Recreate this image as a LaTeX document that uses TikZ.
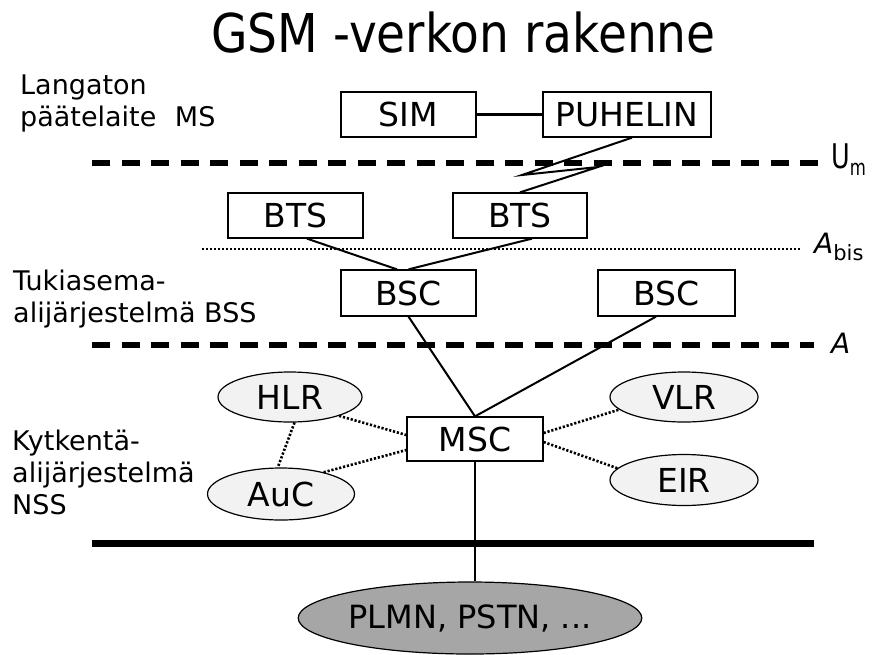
\documentclass[tikz,border=0pt]{standalone}
\usepackage{fontspec}
\setmainfont{DejaVu Sans}
\newfontfamily\titlefont[FakeStretch=0.88]{DejaVu Sans}
\newfontfamily\narrowfont[FakeStretch=0.75]{DejaVu Sans}
\usetikzlibrary{shapes.geometric,calc}
\definecolor{ellgray}{RGB}{242,242,242}
\definecolor{netgray}{RGB}{166,166,166}
\begin{document}
\begin{tikzpicture}[x=1pt,y=-1pt,
  box/.style={draw,line width=1.3pt,minimum width=#1,minimum height=45pt,inner sep=0pt,font=\fontsize{33}{33}\selectfont},
  ell/.style={ellipse,draw,line width=1.2pt,fill=ellgray,inner sep=0pt,font=\fontsize{33}{33}\selectfont},
  sidelabel/.style={anchor=north west,inner sep=0pt,align=left,font=\fontsize{27}{32}\selectfont},
  ifacelabel/.style={anchor=base west,inner sep=0pt},
  conn/.style={line width=2pt},
  dotconn/.style={line width=2.6pt,dash pattern=on 2.2pt off 1.8pt},
  iface/.style={line width=6pt,dash pattern=on 18pt off 11.5pt},
  dotline/.style={line width=1.6pt,dash pattern=on 1.8pt off 2.2pt}
]
\fill[white] (0,0) rectangle (874,654);
\useasboundingbox (0,0) rectangle (874,654);

% title
\node[anchor=base,inner sep=0pt,font=\titlefont\fontsize{53.5}{54}\selectfont] (title) at (463.5,52) {GSM -verkon rakenne};

% side labels
\node[sidelabel] (lms) at (20,75) {Langaton\\päätelaite\hspace{10pt} MS};
\node[sidelabel] (lbss) at (13,270) {Tukiasema-\\alijärjestelmä BSS};
\node[sidelabel] (lnss) at (12,430) {Kytkentä-\\alijärjestelmä\\NSS};

% interface lines
\coordinate (um1) at (92,163);
\coordinate (um2) at (819,163);
\draw[iface] (um1) -- (um2);
\node[ifacelabel,font=\narrowfont\fontsize{34}{34}\selectfont] (umlab) at (831,168) {U\raisebox{-7pt}{\fontsize{22}{22}\selectfont m}};

\coordinate (ab1) at (202,249);
\coordinate (ab2) at (801,249);
\draw[dotline] (ab1) -- (ab2);
\node[ifacelabel,font=\fontsize{28}{28}\selectfont] (ablab) at (814,253) {\itshape A\upshape\raisebox{-7pt}{\fontsize{21}{21}\selectfont bis}};

\coordinate (a1) at (92,345);
\coordinate (a2) at (814,345);
\draw[iface] (a1) -- (a2);
\node[ifacelabel,font=\fontsize{28}{28}\selectfont] (alab) at (831,353) {\itshape A};

\coordinate (n1) at (92,543);
\coordinate (n2) at (814,543);
\draw[line width=7pt] (n1) -- (n2);

% boxes
\node[box=135pt] (sim) at (408.5,114.5) {SIM};
\node[box=168pt] (puh) at (627,114.5) {PUHELIN};
\node[box=135pt] (bts1) at (295.5,215.5) {BTS};
\node[box=134pt] (bts2) at (520,215.5) {BTS};
\node[box=135pt,minimum height=46pt] (bsc1) at (408.5,293) {BSC};
\node[box=137pt,minimum height=46pt] (bsc2) at (666.5,293) {BSC};
\node[box=136pt,minimum height=44pt] (msc) at (475,439) {MSC};

% ellipses
\node[ell,minimum width=144pt,minimum height=50pt] (hlr) at (290,397) {HLR};
\node[ell,minimum width=148pt,minimum height=50pt] (vlr) at (684,397) {VLR};
\node[ell,minimum width=147pt,minimum height=52pt] (auc) at (281,494) {AuC};
\node[ell,minimum width=148pt,minimum height=51pt] (eir) at (684,480) {EIR};
\node[ellipse,draw,line width=1.2pt,fill=netgray,inner sep=0pt,minimum width=326pt,minimum height=72pt,font=\fontsize{32}{32}\selectfont] (plmn) at (470,618) {PLMN, PSTN, ...};

% connectors
\draw[line width=3pt] (sim.east) -- (puh.west);
\coordinate (z1) at (522,175);
\coordinate (z2) at (598,167);
\draw[conn,line join=miter] ([xshift=5pt]puh.south) -- (z1) -- (z2) -- (bts2.north);
\draw[conn] ([xshift=11.5pt]bts1.south) -- ([xshift=-11.5pt]bsc1.north);
\draw[conn] ([xshift=12pt]bts2.south) -- (bsc1.north);
\draw[conn] (bsc1.south) -- (msc.north);
\draw[conn] ([xshift=-10.5pt]bsc2.south) -- (msc.north);
\draw[conn] (msc.south) -- (msc.south |- plmn.north);

\draw[dotconn] (hlr.-21) -- ([yshift=4pt]msc.west);
\draw[dotconn] (auc.27) -- ([yshift=-11pt]msc.west);
\draw[dotconn] (hlr.-80) -- (auc.97);
\draw[dotconn] ([yshift=6pt]msc.east) -- (vlr.191);
\draw[dotconn] ([yshift=-3pt]msc.east) -- (eir.170);
\end{tikzpicture}
\end{document}
